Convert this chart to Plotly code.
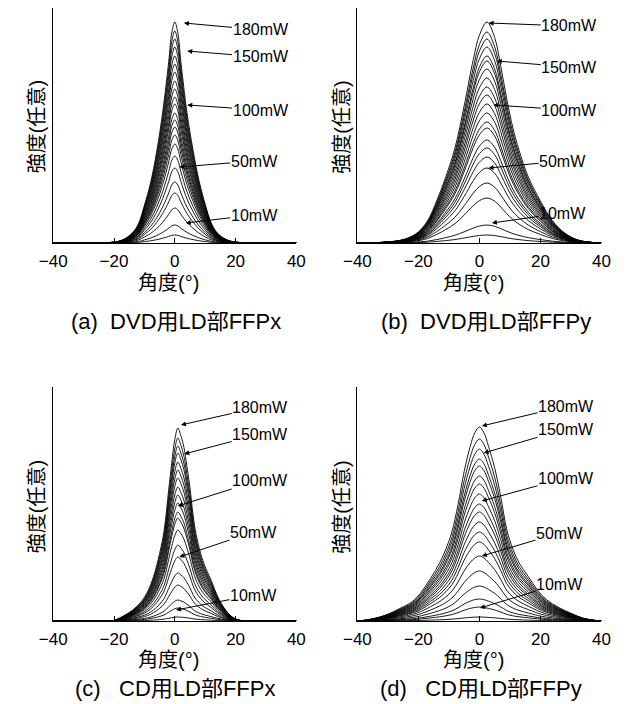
import plotly.graph_objects as go

# ---------------- data ----------------
# normalised beam profiles (shape of the 180mW curve) for each panel
angle_a = [-40, -30, -24, -20, -17, -14, -12, -10, -8, -6, -4, -2, -1, 0, 1, 2, 4, 6, 8, 10, 12, 14, 17, 20, 24, 30, 40]
shape_a = [0, 0, 0.001, 0.004, 0.015, 0.045, 0.085, 0.17, 0.27, 0.41, 0.59, 0.82, 0.95, 1.0, 0.95, 0.82, 0.59, 0.42, 0.28, 0.175, 0.09, 0.045, 0.015, 0.004, 0.001, 0, 0]

angle_b = [-40, -32, -26, -23, -20, -17, -14, -11, -8, -5, -2, 0, 2.5, 5, 7, 9, 11, 13, 16, 20, 24, 28, 32, 36, 40]
shape_b = [0, 0.003, 0.012, 0.025, 0.05, 0.1, 0.19, 0.3, 0.43, 0.62, 0.83, 0.94, 1.0, 0.93, 0.8, 0.65, 0.52, 0.42, 0.3, 0.19, 0.1, 0.045, 0.015, 0.004, 0]

angle_c = [-40, -25, -20, -17, -14, -11, -9, -7, -5, -3.5, -2, -1, 0, 1, 2, 3, 4, 5, 6, 7, 8.5, 10, 12, 14, 16.8, 19, 21, 25, 40]
shape_c = [0, 0, 0.003, 0.025, 0.055, 0.1, 0.15, 0.23, 0.35, 0.47, 0.68, 0.82, 0.94, 1.0, 0.96, 0.9, 0.8, 0.69, 0.55, 0.45, 0.35, 0.28, 0.21, 0.13, 0.055, 0.02, 0.005, 0, 0]

angle_d = [-40, -38, -34, -30, -26, -22, -19, -16, -13, -11, -9, -7, -5, -3, -1.5, 0, 1.5, 3, 5, 7, 9, 11, 13, 16, 19, 22, 26, 30, 34, 38, 40]
shape_d = [0, 0.003, 0.015, 0.035, 0.065, 0.1, 0.15, 0.22, 0.3, 0.37, 0.46, 0.6, 0.77, 0.9, 0.97, 1.0, 0.97, 0.9, 0.79, 0.64, 0.47, 0.37, 0.3, 0.23, 0.16, 0.11, 0.07, 0.04, 0.015, 0.003, 0]

# peak intensities (arbitrary units) of every measured curve, highest = 180mW
peaks_a = [221, 212, 204, 196, 187, 179, 171, 162, 154, 146, 139, 130, 123, 116, 108, 99, 87, 75, 61, 50, 35, 18, 8]
peaks_b = [221, 211, 204, 196, 187, 182, 174, 165, 156, 148, 139, 130, 121, 115, 103, 95, 86, 75, 60, 45, 18, 8]
peaks_c = [193, 183, 175, 168, 159, 151, 143, 134, 126, 118, 109, 103, 91, 76, 64, 48, 36, 21, 13, 4]
peaks_d = [194, 182, 172, 162, 155, 145, 137, 127, 117, 109, 99, 89, 79, 65, 50, 35, 22, 14, 4]

power_labels = ["180mW", "150mW", "100mW", "50mW", "10mW"]
# arrow tips (angle, intensity) and label centres (angle, intensity) per panel
tips_a = [(3.0, 220), (4.1, 192), (4.1, 138), (1.5, 76), (3.6, 20)]
text_a = [(28.2, 213), (28.2, 186), (28.2, 133), (26.1, 82), (26.1, 28)]
tips_b = [(3.0, 220), (5.7, 182), (4.6, 138), (3.0, 75), (4.1, 20)]
text_b = [(29.5, 217), (29.5, 176), (29.5, 133), (27.3, 82), (27.3, 30)]
tips_c = [(2.0, 196), (3.1, 167), (1.0, 115), (1.5, 64), (0.4, 11)]
text_c = [(28.1, 214), (28.1, 187), (28.1, 141), (25.9, 89), (25.9, 26)]
tips_d = [(0.8, 195), (1.4, 168), (0.8, 120), (0.8, 65), (0.2, 13)]
text_d = [(28.4, 215), (28.4, 192), (28.4, 143), (26.3, 88), (26.3, 37)]

x_ticks = [-40, -20, 0, 20, 40]
x_title = "角度(°)"
y_title = "強度(任意)"
NB = "\u00a0"
subtitles = ["(a)" + NB * 2 + "DVD用LD部FFPx", "(b)" + NB * 2 + "DVD用LD部FFPy",
             "(c)" + NB * 3 + "CD用LD部FFPx", "(d)" + NB * 3 + "CD用LD部FFPy"]

# ---------------- figure ----------------
FONT = "Liberation Sans, Noto Sans CJK JP, sans-serif"
W, H = 634, 704

panels = [
    dict(ang=angle_a, shp=shape_a, pk=peaks_a, tips=tips_a, txt=text_a, xa="x", ya="y"),
    dict(ang=angle_b, shp=shape_b, pk=peaks_b, tips=tips_b, txt=text_b, xa="x2", ya="y2"),
    dict(ang=angle_c, shp=shape_c, pk=peaks_c, tips=tips_c, txt=text_c, xa="x3", ya="y3"),
    dict(ang=angle_d, shp=shape_d, pk=peaks_d, tips=tips_d, txt=text_d, xa="x4", ya="y4"),
]

fig = go.Figure()
annotations = []
for p in panels:
    for h in p["pk"]:
        fig.add_trace(go.Scatter(
            x=p["ang"], y=[h * s for s in p["shp"]],
            mode="lines", line=dict(color="black", width=0.9, shape="spline", smoothing=1.0),
            xaxis=p["xa"], yaxis=p["ya"], showlegend=False, hoverinfo="skip"))
    for lab, (tx, ty), (lx, ly) in zip(power_labels, p["tips"], p["txt"]):
        annotations.append(dict(
            x=tx, y=ty, ax=lx, ay=ly, xref=p["xa"], yref=p["ya"],
            axref=p["xa"], ayref=p["ya"], text=lab, showarrow=True,
            arrowhead=2, arrowsize=1, arrowwidth=1, arrowcolor="black",
            font=dict(family=FONT, size=16, color="black"), borderpad=0))

# panel geometry in pixels
xdom_left = [40.7 / W, 293 / W]
xdom_right = [356.3 / W, 609.5 / W]
ydom_top = [(H - 243) / H, (H - 8) / H]
ydom_bot = [(H - 621) / H, (H - 387) / H]

def xax(dom, anchor):
    return dict(domain=dom, anchor=anchor, range=[-40, 40], tickvals=x_ticks,
                ticks="inside", ticklen=5, tickwidth=1, tickcolor="black",
                showline=True, linecolor="black", linewidth=1.2, showgrid=False,
                zeroline=False, ticklabelstandoff=2,
                tickfont=dict(family=FONT, size=17, color="black"))

def yax(dom, anchor, top):
    return dict(domain=dom, anchor=anchor, range=[0, top], showticklabels=False,
                ticks="", showline=True, linecolor="black", linewidth=1.2,
                showgrid=False, zeroline=False)

fig.update_layout(
    width=W, height=H, margin=dict(l=0, r=0, t=0, b=0),
    paper_bgcolor="white", plot_bgcolor="white",
    xaxis=xax(xdom_left, "y"), yaxis=yax(ydom_top, "x", 235),
    xaxis2=xax(xdom_right, "y2"), yaxis2=yax(ydom_top, "x2", 235),
    xaxis3=xax(xdom_left, "y3"), yaxis3=yax(ydom_bot, "x3", 234),
    xaxis4=xax(xdom_right, "y4"), yaxis4=yax(ydom_bot, "x4", 234),
)

def paper(xpx, ypx):
    return xpx / W, (H - ypx) / H

tfont = dict(family=FONT, size=20, color="black")
for cx, cy in [(160, 283), (477, 283), (160, 660), (477, 660)]:
    px, py = paper(cx, cy)
    annotations.append(dict(x=px, y=py, xref="paper", yref="paper", text=x_title,
                            showarrow=False, font=tfont, xanchor="center", yanchor="middle"))
for cx, cy in [(24, 127), (340, 127), (24, 507), (340, 507)]:
    px, py = paper(cx, cy)
    annotations.append(dict(x=px, y=py, xref="paper", yref="paper", text=y_title,
                            showarrow=False, font=tfont, textangle=-90,
                            xanchor="center", yanchor="middle"))
sfont = dict(family=FONT, size=22, color="black")
for s, (cx, cy) in zip(subtitles, [(168, 321), (490, 321), (167, 688), (485, 688)]):
    px, py = paper(cx, cy)
    annotations.append(dict(x=px, y=py, xref="paper", yref="paper", text=s,
                            showarrow=False, font=sfont, xanchor="center", yanchor="middle"))

fig.update_layout(annotations=annotations)
fig.write_html("out.html")
